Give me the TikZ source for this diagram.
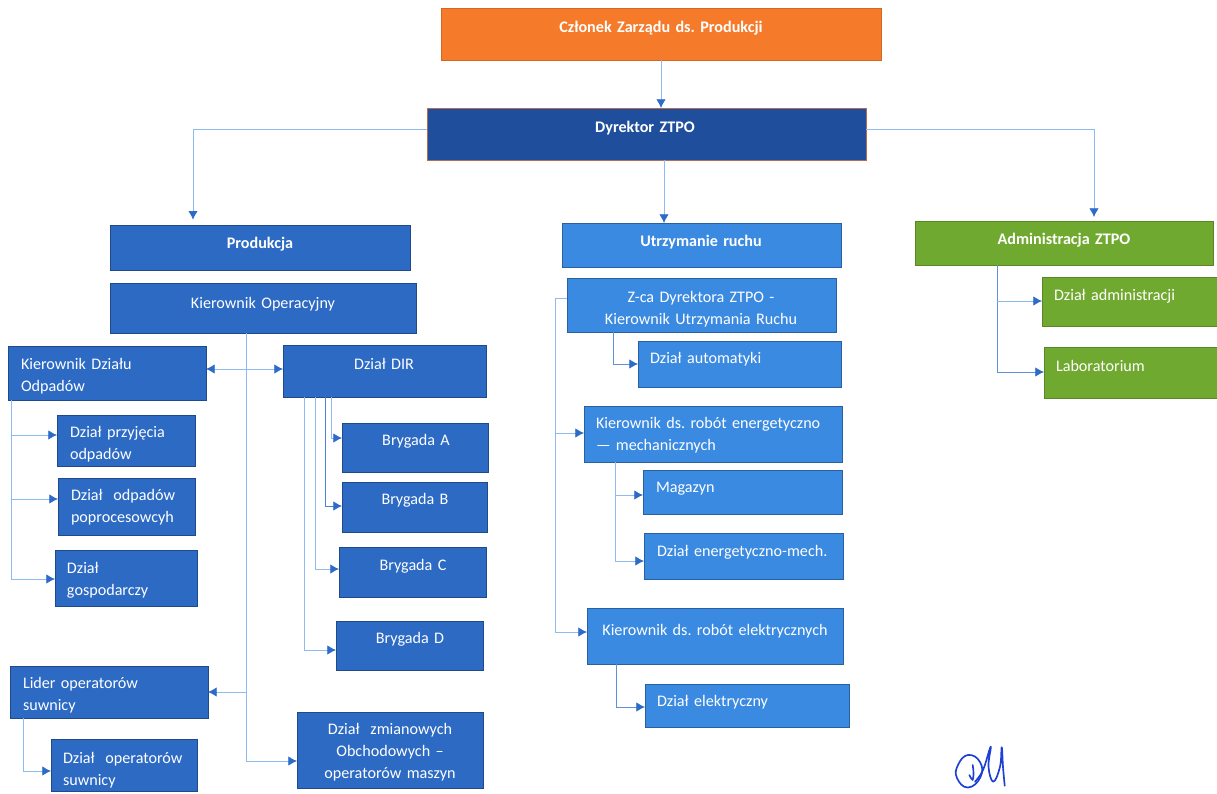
\documentclass[tikz,border=0pt]{standalone}
\usepackage{fontspec}
\setmainfont{Carlito}
\usetikzlibrary{arrows.meta}
\definecolor{orangeb}{HTML}{F57A2A}
\definecolor{navyb}{HTML}{1F4E9C}
\definecolor{midb}{HTML}{2C6AC4}
\definecolor{lightb}{HTML}{3A8AE2}
\definecolor{greenb}{HTML}{70A92F}
\definecolor{linec}{HTML}{8DBBEF}
\definecolor{arrowc}{HTML}{2C6CC8}
\definecolor{inkc}{HTML}{1C3FD6}
\tikzset{
  bx/.style={rectangle,inner sep=0pt,outer sep=0pt,anchor=north west,text=white,line width=.7pt,
    font=\fontsize{12.1}{16.5}\selectfont\frenchspacing},
  top/.style={bx,fill=orangeb,draw=orangeb!85!black,font=\fontsize{12.1}{16.5}\selectfont\frenchspacing\bfseries},
  dyr/.style={bx,fill=navyb,draw=orangeb!70!navyb,font=\fontsize{12.1}{16.5}\selectfont\frenchspacing\bfseries},
  mid/.style={bx,fill=midb,draw=midb!70!black},
  midh/.style={mid,font=\fontsize{12.1}{16.5}\selectfont\frenchspacing\bfseries},
  lgt/.style={bx,fill=lightb,draw=lightb!70!black},
  lgth/.style={lgt,font=\fontsize{12.1}{16.5}\selectfont\frenchspacing\bfseries},
  grn/.style={bx,fill=greenb,draw=greenb!80!black},
  grnh/.style={grn,font=\fontsize{12.1}{16.5}\selectfont\frenchspacing\bfseries},
  conn/.style={draw=linec,line width=.6pt},
  arr/.style={conn,-{Latex[length=6.5pt,width=7pt,color=arrowc]}},
  darr/.style={conn,{Latex[length=6.5pt,width=7pt,color=arrowc]}-{Latex[length=6.5pt,width=7pt,color=arrowc]}},
  ink/.style={draw=inkc,line width=1.25pt,line cap=round,line join=round}
}
% name, style, x1, y1, x2, y2, baseline y, text left x, text
\newcommand\bxl[9]{%
  \pgfmathsetmacro\bxw{(#5-#3)*.75}\pgfmathsetmacro\bxh{(#7-#4)*.75}%
  \pgfmathsetmacro\bxd{(#6-#7)*.75}\pgfmathsetmacro\bxL{(#8-#3)*.75}%
  \pgfmathsetmacro\bxp{\bxw-\bxL}%
  \node[#2,text width=\bxw pt,text height=\bxh pt,text depth=\bxd pt,align=left] (#1) at (#3,#4)
    {\hspace*{\bxL pt}\parbox[t]{\bxp pt}{\raggedright #9}};}
% name, style, x1, y1, x2, y2, baseline y, text centre x, text
\newcommand\bxc[9]{%
  \pgfmathsetmacro\bxw{(#5-#3)*.75}\pgfmathsetmacro\bxh{(#7-#4)*.75}%
  \pgfmathsetmacro\bxd{(#6-#7)*.75}%
  \pgfmathsetmacro\bxhalf{min(#8-#3,#5-#8)}%
  \pgfmathsetmacro\bxL{(#8-\bxhalf-#3)*.75}\pgfmathsetmacro\bxp{\bxhalf*1.5}%
  \node[#2,text width=\bxw pt,text height=\bxh pt,text depth=\bxd pt,align=left] (#1) at (#3,#4)
    {\hspace*{\bxL pt}\parbox[t]{\bxp pt}{\centering #9}};}
\begin{document}
\begin{tikzpicture}[x=.75pt,y=-.75pt]
\useasboundingbox (0,0) rectangle (1217,793);
% top
\bxc{czl}{top}{441}{8}{881}{60}{32}{661}{Członek Zarządu ds. Produkcji}
\bxc{dyrz}{dyr}{427}{108}{866}{160}{132}{645}{Dyrektor ZTPO}
% headers
\bxc{prod}{midh}{110}{225}{410}{270}{248}{260}{Produkcja}
\bxc{utrz}{lgth}{562}{223}{841}{267}{246}{701}{Utrzymanie ruchu}
\bxc{adm}{grnh}{915}{221}{1213}{265}{244}{1064}{Administracja ZTPO}
% produkcja
\bxc{kop}{mid}{110}{283}{416}{333}{308}{263}{Kierownik Operacyjny}
\bxl{kod}{mid}{8}{346}{206}{400}{369}{21}{Kierownik Działu\\Odpadów}
\bxc{dir}{mid}{283}{345}{486}{397}{369}{384}{Dział DIR}
\bxl{dpo}{mid}{57}{415}{195}{466}{437}{70}{Dział przyjęcia\\odpadów}
\bxl{dpp}{mid}{58}{478}{195}{535}{500}{71}{Dział\ \ odpadów\\poprocesowcyh}
\bxl{dgo}{mid}{55}{550}{197}{606}{573}{67}{Dział\\gospodarczy}
\bxc{bra}{mid}{342}{423}{488}{472}{445}{416}{Brygada A}
\bxc{brb}{mid}{342}{482}{487}{532}{504}{415}{Brygada B}
\bxc{brc}{mid}{339}{547}{486}{597}{570}{413}{Brygada C}
\bxc{brd}{mid}{336}{621}{483}{670}{643}{410}{Brygada D}
\bxl{lid}{mid}{10}{666}{208}{718}{688}{23}{Lider operatorów\\suwnicy}
\bxl{dos}{mid}{51}{739}{197}{791}{763}{63}{Dział\ \ operatorów\\suwnicy}
\bxc{dzm}{mid}{297}{712}{483}{788}{734}{390}{Dział\ \ zmianowych\\Obchodowych --\\operatorów maszyn}
% utrzymanie
\bxc{zca}{lgt}{567}{278}{836}{332}{302}{701}{Z-ca Dyrektora ZTPO -\\Kierownik Utrzymania Ruchu}
\bxl{aut}{lgt}{638}{341}{841}{387}{363}{650}{Dział automatyki}
\bxl{ken}{lgt}{584}{406}{842}{462}{428}{596}{Kierownik ds. robót energetyczno\\--- mechanicznych}
\bxl{mag}{lgt}{643}{470}{842}{514}{492}{656}{Magazyn}
\bxl{den}{lgt}{644}{533}{843}{579}{556}{657}{Dział energetyczno-mech.}
\bxc{kel}{lgt}{587}{608}{843}{664}{635}{715}{Kierownik ds. robót elektrycznych}
\bxl{del}{lgt}{645}{684}{849}{727}{706}{657}{Dział elektryczny}
% administracja
\bxl{dad}{grn}{1042}{277}{1217}{326}{300}{1054}{Dział administracji}
\bxl{lab}{grn}{1044}{347}{1217}{398}{371}{1056}{Laboratorium}
% top connectors
\draw[arr] (czl.south) -- (czl.south |- dyrz.north);
\coordinate (cp) at (193,129);
\draw[arr,shorten >=4pt] (dyrz.west |- cp) -| (prod.north -| cp);
\coordinate (cu) at (664,160);
\draw[arr] (dyrz.south -| cu) -- (utrz.north -| cu);
\coordinate (ca) at (1094,129);
\draw[arr,shorten >=3pt] (dyrz.east |- ca) -| (adm.north -| ca);
% kierownik operacyjny
\coordinate (ct) at (246,761);
\draw[arr] (kop.south -| ct) |- (dzm.west |- ct);
\coordinate (cl) at (246,692);
\draw[arr] (cl) -- (lid.east |- cl);
\coordinate (cd) at (246,369);
\draw[darr] (kod.east |- cd) -- (dir.west |- cd);
% kierownik dzialu odpadow
\coordinate (k1) at (11,435);
\coordinate (k2) at (11,499);
\coordinate (k3) at (11,579);
\draw[arr] (kod.south -| k3) |- (dgo.west |- k3);
\draw[arr] (k1) -- (dpo.west |- k1);
\draw[arr] (k2) -- (dpp.west |- k2);
% dzial DIR
\coordinate (ba) at (331,438);
\coordinate (bb) at (325,506);
\coordinate (bc) at (315,569);
\coordinate (bd) at (304,650);
\draw[arr] (dir.south -| ba) |- (bra.west |- ba);
\draw[arr,draw=midb!70!linec] (dir.south -| bb) |- (brb.west |- bb);
\draw[arr] (dir.south -| bc) |- (brc.west |- bc);
\draw[arr] (dir.south -| bd) |- (brd.west |- bd);
% lider
\coordinate (lo) at (23,771);
\draw[arr] (lid.south -| lo) |- (dos.west |- lo);
% utrzymanie
\coordinate (z1) at (555,298);
\coordinate (z2) at (555,433);
\coordinate (z3) at (555,632);
\draw[arr] (zca.west |- z1) -- (z1) |- (kel.west |- z3);
\draw[arr] (z2) -- (ken.west |- z2);
\coordinate (au) at (613,364);
\draw[arr,draw=midb!50!linec] (zca.south -| au) |- (aut.west |- au);
\coordinate (ma) at (615,495);
\draw[arr] (ma) -- (mag.west |- ma);
\coordinate (en) at (615,561);
\draw[arr] (ken.south -| en) |- (den.west |- en);
\coordinate (el) at (616,707);
\draw[arr,draw=midb!50!linec] (kel.south -| el) |- (del.west |- el);
% administracja
\coordinate (a1) at (997,301);
\coordinate (a2) at (997,372);
\draw[arr,draw=midb!50!linec] (adm.south -| a2) |- (lab.west |- a2);
\draw[arr] (a1) -- (dad.west |- a1);
% signature
\draw[ink] plot[smooth cycle,tension=.8] coordinates {(968,755) (980,762) (980.5,777) (968,787.5) (957,778) (958,765)};
\draw[ink] (972.7,765) .. controls (974,772) and (973.5,778) .. (972.7,780) .. controls (971.5,779) and (970,777) .. (969.3,775);
\draw[ink] plot[smooth,tension=.7] coordinates {(975,781.7) (983,770) (990.7,746.7) (988.5,766.7) (993.3,781.7) (1000,766.7) (1001.7,747.3) (1003,767) (1004.7,785.7)};
\end{tikzpicture}
\end{document}
